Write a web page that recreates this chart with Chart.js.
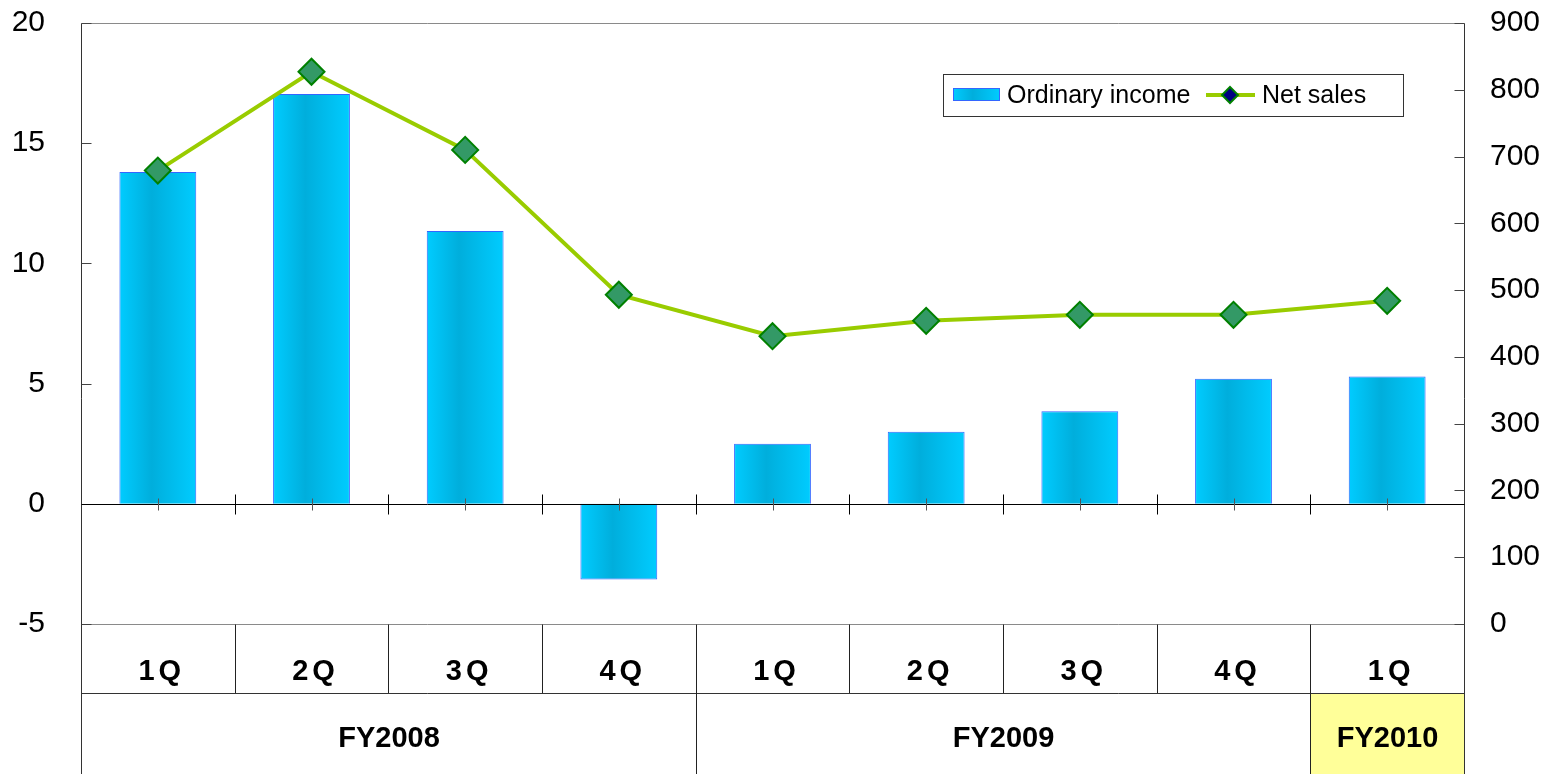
<!DOCTYPE html>
<html>
<head>
<meta charset="utf-8">
<script src="https://cdn.jsdelivr.net/npm/chart.js@4/dist/chart.umd.min.js"></script>
<style>
  html, body { margin: 0; padding: 0; background: #ffffff; }
  #wrap { width: 1548px; height: 774px; position: relative; }
</style>
</head>
<body>
<div id="wrap"><canvas id="c" width="1548" height="774"></canvas></div>
<script>
// ---- data ----
const quarters = ['1Q', '2Q', '3Q', '4Q', '1Q', '2Q', '3Q', '4Q', '1Q'];
const fiscalYears = ['FY2008', 'FY2009', 'FY2010'];
const fiscalYearSpans = [4, 4, 1];
const ordinaryIncome = [13.8, 17.05, 11.35, -3.15, 2.5, 3.0, 3.85, 5.2, 5.3];
const netSales = [679, 827, 710, 493, 431, 454, 463, 463, 484];
const highlightedYear = 'FY2010';

const FONT = '"Liberation Sans", Arial, sans-serif';

function barFill(c) {
  const chart = c.chart;
  const xs = chart.scales.x;
  if (!chart.chartArea || !xs || c.dataIndex === undefined) return '#00C4F4';
  const cx = xs.getPixelForValue(c.dataIndex);
  const half = (chart.chartArea.width / chart.data.labels.length) * 0.25;
  const g = chart.ctx.createLinearGradient(cx - half, 0, cx + half, 0);
  g.addColorStop(0, '#00CCFF');
  g.addColorStop(0.42, '#00AEDC');
  g.addColorStop(1, '#00CCFF');
  return g;
}

const decor = {
  id: 'decor',
  afterDatasetsDraw(chart) {
    const { ctx, chartArea: a, scales } = chart;
    const y = scales.y, y1 = scales.y1, xs = scales.x;
    const n = chart.data.labels.length;
    const step = (a.right - a.left) / n;
    const H = chart.height;
    const rowSplit = a.bottom + 69;
    const bx = i => Math.round(a.left + step * i) + 0.5;
    const L = Math.round(a.left) + 0.5, R = Math.round(a.right) + 0.5;
    const T = Math.round(a.top) + 0.5, B = Math.round(a.bottom) + 0.5;
    ctx.save();
    ctx.lineWidth = 1;

    // highlighted fiscal-year cell
    let start = 0;
    fiscalYears.forEach((fy, k) => {
      const end = start + fiscalYearSpans[k];
      if (fy === highlightedYear) {
        ctx.fillStyle = '#FFFF99';
        ctx.fillRect(bx(start), rowSplit, bx(end) - bx(start), H - rowSplit);
      }
      start = end;
    });

    // frame
    ctx.strokeStyle = '#8a8a8a';
    ctx.beginPath();
    ctx.moveTo(L, T); ctx.lineTo(R, T);
    ctx.moveTo(L, B); ctx.lineTo(R, B);
    ctx.stroke();
    ctx.strokeStyle = '#333333';
    ctx.beginPath();
    ctx.moveTo(L, T); ctx.lineTo(L, H);
    ctx.moveTo(R, T); ctx.lineTo(R, H);
    ctx.moveTo(L, rowSplit + 0.5); ctx.lineTo(R, rowSplit + 0.5);
    ctx.stroke();

    // axis ticks (inward)
    ctx.strokeStyle = '#444444';
    ctx.beginPath();
    y.ticks.forEach(t => {
      const p = Math.round(y.getPixelForValue(t.value)) + 0.5;
      ctx.moveTo(L, p); ctx.lineTo(L + 10, p);
    });
    y1.ticks.forEach(t => {
      const p = Math.round(y1.getPixelForValue(t.value)) + 0.5;
      ctx.moveTo(R, p); ctx.lineTo(R - 10, p);
    });
    ctx.stroke();

    // zero line with ticks
    const z = Math.round(y.getPixelForValue(0)) + 0.5;
    ctx.strokeStyle = '#000000';
    ctx.beginPath();
    ctx.moveTo(L, z); ctx.lineTo(R, z);
    for (let i = 1; i < n; i++) { ctx.moveTo(bx(i), z - 10); ctx.lineTo(bx(i), z + 10); }
    ctx.stroke();
    ctx.strokeStyle = '#555555';
    ctx.beginPath();
    for (let i = 0; i < n; i++) {
      const cx = Math.round(xs.getPixelForValue(i)) + 0.5;
      ctx.moveTo(cx, z - 6); ctx.lineTo(cx, z + 6);
    }
    ctx.stroke();

    // table lines
    ctx.strokeStyle = '#222222';
    ctx.beginPath();
    for (let i = 1; i < n; i++) { ctx.moveTo(bx(i), B); ctx.lineTo(bx(i), rowSplit); }
    start = 0;
    fiscalYearSpans.forEach(s => {
      start += s;
      if (start < n) { ctx.moveTo(bx(start), rowSplit); ctx.lineTo(bx(start), H); }
    });
    ctx.stroke();

    // labels
    ctx.fillStyle = '#000000';
    ctx.textAlign = 'center';
    ctx.textBaseline = 'middle';
    ctx.font = 'bold 29px ' + FONT;
    chart.data.labels.forEach((lab, i) => {
      const cx = xs.getPixelForValue(i);
      ctx.letterSpacing = '4px';
      ctx.fillText(lab, cx + 4, a.bottom + 48);
    });
    ctx.letterSpacing = '0px';
    start = 0;
    fiscalYears.forEach((fy, k) => {
      const end = start + fiscalYearSpans[k];
      const cx = (bx(start) + bx(end)) / 2;
      ctx.fillText(fy, cx, rowSplit + 46);
      start = end;
    });

    // legend
    const lx = 943.5, ly = 74.5, lw = 460, lh = 42;
    ctx.fillStyle = '#ffffff';
    ctx.fillRect(lx, ly, lw, lh);
    ctx.strokeStyle = '#333333';
    ctx.strokeRect(lx, ly, lw, lh);
    const ds = chart.data.datasets;
    const g = ctx.createLinearGradient(953, 0, 1000, 0);
    g.addColorStop(0, '#00CCFF'); g.addColorStop(0.42, '#00AEDC'); g.addColorStop(1, '#00CCFF');
    ctx.fillStyle = g;
    ctx.fillRect(953, 88, 47, 13);
    ctx.strokeStyle = '#3366FF';
    ctx.strokeRect(953.5, 88.5, 46, 12);
    ctx.fillStyle = '#000000';
    ctx.textAlign = 'left';
    ctx.font = '25px ' + FONT;
    ctx.fillText(ds[0].label, 1007, 96);
    ctx.strokeStyle = '#99CC00';
    ctx.lineWidth = 4;
    ctx.beginPath(); ctx.moveTo(1206, 95); ctx.lineTo(1255, 95); ctx.stroke();
    ctx.fillStyle = '#000080';
    ctx.strokeStyle = '#008000';
    ctx.lineWidth = 2;
    ctx.beginPath();
    ctx.moveTo(1230, 87); ctx.lineTo(1238, 95); ctx.lineTo(1230, 103); ctx.lineTo(1222, 95); ctx.closePath();
    ctx.fill(); ctx.stroke();
    ctx.fillStyle = '#000000';
    ctx.fillText(ds[1].label, 1262, 96);

    ctx.restore();
  }
};

function fixAxis(width) {
  return s => { s.width = width; s.paddingTop = 0; s.paddingBottom = 0; };
}

new Chart(document.getElementById('c'), {
  type: 'bar',
  data: {
    labels: quarters,
    datasets: [
      {
        type: 'bar',
        label: 'Ordinary income',
        data: ordinaryIncome,
        yAxisID: 'y',
        order: 1,
        backgroundColor: barFill,
        borderColor: '#3366FF',
        borderWidth: 1,
        barPercentage: 0.5,
        categoryPercentage: 1.0
      },
      {
        type: 'line',
        label: 'Net sales',
        data: netSales,
        yAxisID: 'y1',
        order: 0,
        borderColor: '#99CC00',
        borderWidth: 4,
        tension: 0,
        pointStyle: 'rectRot',
        pointRadius: 13,
        pointHoverRadius: 13,
        pointBackgroundColor: '#339966',
        pointBorderColor: '#008000',
        pointBorderWidth: 2
      }
    ]
  },
  options: {
    responsive: false,
    animation: false,
    devicePixelRatio: 1,
    layout: { padding: { top: 23, bottom: 150, left: 0, right: 0 } },
    plugins: { legend: { display: false }, tooltip: { enabled: false } },
    scales: {
      x: { display: false, offset: true },
      y: {
        position: 'left',
        min: -5, max: 20,
        ticks: { stepSize: 5, color: '#000', font: { family: FONT, size: 30 }, padding: 36 },
        grid: { display: false, drawTicks: false },
        border: { display: false },
        afterFit: fixAxis(81)
      },
      y1: {
        position: 'right',
        min: 0, max: 900,
        ticks: { stepSize: 100, color: '#000', font: { family: FONT, size: 30 }, padding: 26 },
        grid: { display: false, drawTicks: false },
        border: { display: false },
        afterFit: fixAxis(84)
      }
    }
  },
  plugins: [decor]
});
</script>
</body>
</html>
